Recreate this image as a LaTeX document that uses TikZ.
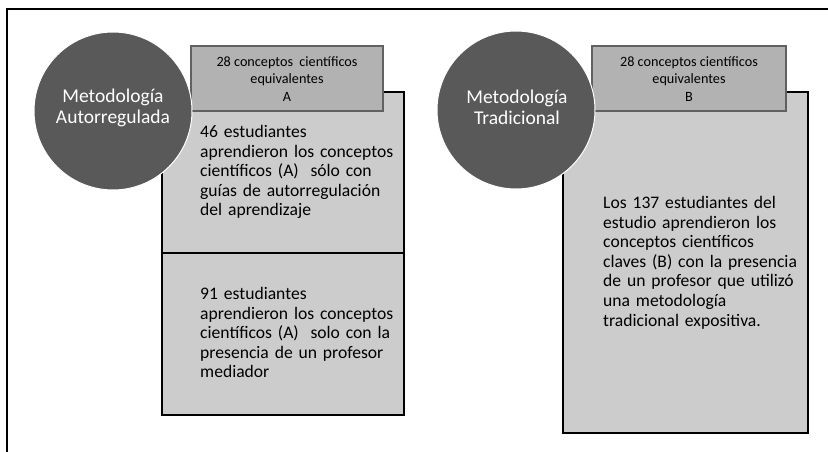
\documentclass[tikz,border=0pt]{standalone}
\usepackage{fontspec}
\setmainfont{Carlito}
\begin{document}
\begin{tikzpicture}[x=1pt,y=-1pt,
  bigbox/.style={draw=black, line width=2.6pt, fill=gray!40, inner sep=0pt},
  headbox/.style={draw=black!62, line width=2.4pt, fill=black!30, minimum width=192pt, minimum height=65pt, inner sep=0pt},
  circ/.style={circle, draw=white, line width=1pt, fill=black!65, minimum size=158pt, inner sep=0pt},
  circtext/.style={text=white, align=center, font=\fontsize{19.5}{21}\selectfont},
  headtext/.style={align=center, font=\fontsize{14.2}{17.5}\selectfont},
  bodytext/.style={anchor=north west, inner sep=0pt, align=left, text width=215pt, font=\fontsize{17.6}{19.6}\selectfont}]
\useasboundingbox (0,0) rectangle (828,452);
% frame
\draw[line width=1.6pt] (7,452) -- (7,9) -- (828,9);
% left group
\node[bigbox, minimum width=242pt, minimum height=323pt] (boxA) at (283,253.5) {};
\coordinate (divL) at (162,253);
\coordinate (divR) at (404,253);
\draw[line width=2.6pt] (divL) -- (divR);
\node[headbox] (headA) at (287,78.5) {};
\node[headtext] (headAt) at (287,79) {28 conceptos\ \ científicos\\equivalentes\\A};
\node[circ] (circA) at (113,111) {};
\node[circtext] (circAt) at (113,107.5) {Metodología\\Autorregulada};
\node[bodytext] (txtA1) at (200,125) {46 estudiantes\\aprendieron los conceptos\\científicos (A)\ \ sólo con\\guías de autorregulación\\del aprendizaje};
\node[bodytext] (txtA2) at (200,287) {91 estudiantes\\aprendieron los conceptos\\científicos (A)\ \ solo con la\\presencia de un profesor\\mediador};
% right group
\node[bigbox, minimum width=245pt, minimum height=341pt] (boxB) at (685.5,262.5) {};
\node[headbox, minimum width=194pt] (headB) at (689,78.5) {};
\node[headtext] (headBt) at (689,79) {28 conceptos científicos\\equivalentes\\B};
\node[circ] (circB) at (516,110) {};
\node[circtext] (circBt) at (517,107.5) {Metodología\\Tradicional};
\node[bodytext] (txtB) at (603,196) {Los 137 estudiantes del\\estudio aprendieron los\\conceptos científicos\\claves (B) con la presencia\\de un profesor que utilizó\\una metodología\\tradicional expositiva.};
\end{tikzpicture}
\end{document}
